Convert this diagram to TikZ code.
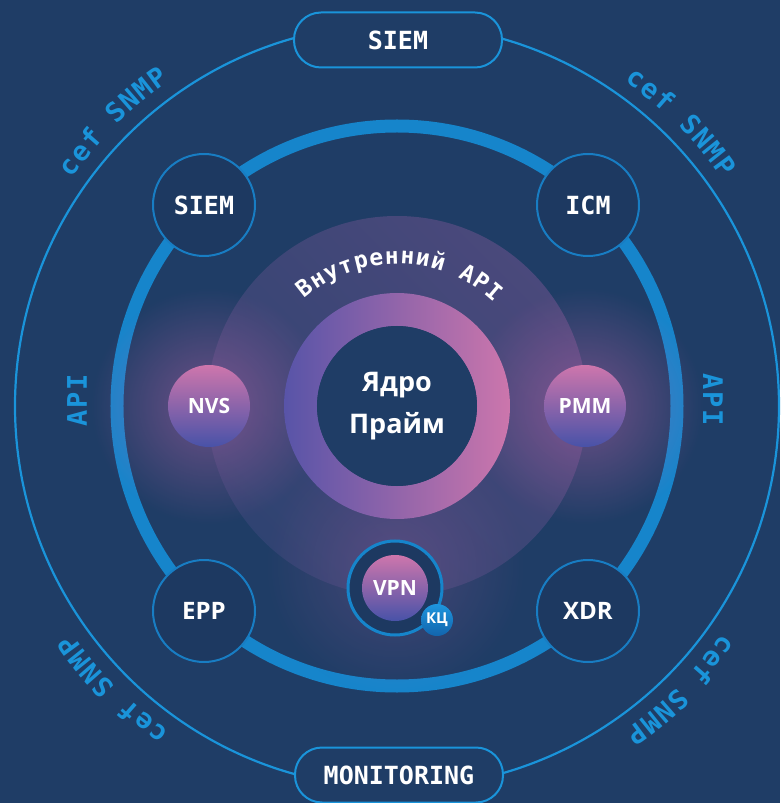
\documentclass[tikz,border=0pt]{standalone}
\usepackage{fontspec}
\setmainfont{Open Sans}
\newfontfamily\monofont{DejaVu Sans Mono}
\newfontfamily\monowide[LetterSpace=6]{DejaVu Sans Mono}
\usetikzlibrary{decorations.text,fadings,shadings}
\definecolor{bgnavy}{RGB}{31,61,102}
\definecolor{lineblue}{RGB}{26,148,218}
\definecolor{ringblue}{RGB}{22,133,203}
\definecolor{satline}{RGB}{24,125,195}
\definecolor{satfill}{RGB}{29,57,97}
\definecolor{discdark}{RGB}{42,66,112}
\definecolor{discmid}{RGB}{60,70,118}
\definecolor{disclight}{RGB}{80,74,126}
\definecolor{coreleft}{RGB}{88,84,168}
\definecolor{coreright}{RGB}{204,118,172}
\definecolor{orbtop}{RGB}{206,118,172}
\definecolor{orbbot}{RGB}{72,82,168}
\definecolor{glowpink}{RGB}{190,100,170}
\definecolor{kctop}{RGB}{30,150,222}
\definecolor{kcbot}{RGB}{18,100,172}
\tikzfading[name=glowfade, inner color=transparent!0, outer color=transparent!100]
\tikzset{
	sat/.style={circle, minimum size=102pt, inner sep=0pt, fill=satfill, draw=satline, line width=2pt, text=white},
	monolbl/.style={font=\monofont\bfseries\fontsize{25}{25}\selectfont},
	sanslbl/.style={font=\bfseries\fontsize{24}{24}\selectfont},
	orb/.style={circle, minimum size=82pt, inner sep=0pt, top color=orbtop, bottom color=orbbot, text=white, font=\bfseries\fontsize{21}{21}\selectfont},
	pill/.style={rectangle, rounded corners=27pt, minimum width=208pt, minimum height=55pt, fill=bgnavy, draw=lineblue, line width=2pt, text=white},
	apilbl/.style={text=lineblue, font=\monowide\bfseries\fontsize{27}{27}\selectfont},
	arclbl/.style={decorate, decoration={text along path, text align=fit to path, text color=lineblue, text={|\monofont\bfseries\fontsize{27}{27}\selectfont|cef SNMP}}}
}
\begin{document}
\begin{tikzpicture}[x=1pt, y=1pt]
	\fill[bgnavy] (-397, -397) rectangle (383, 406);
	\useasboundingbox (-397, -397) rectangle (383, 406);
	\draw[lineblue, line width=2.2pt] (0, 0) circle (382pt);
	\path[arclbl] (145:397) arc[start angle=145, end angle=125, radius=397pt];
	\path[arclbl] (55:397) arc[start angle=55, end angle=35, radius=397pt];
	\path[arclbl] (235:397) arc[start angle=235, end angle=215, radius=397pt];
	\path[arclbl] (325:397) arc[start angle=325, end angle=305, radius=397pt];
	\node[apilbl, rotate=90] at (-320, 6) (apileft) {API};
	\node[apilbl, rotate=-90] at (316, 6) (apiright) {API};
	\draw[ringblue, line width=13pt] (0, 0) circle (280pt);
	\shade[lower left=discdark, upper right=disclight, upper left=discmid, lower right=discmid] (0, 0) circle (190pt);
	\fill[glowpink, path fading=glowfade, fill opacity=0.5] (-188, 0) circle (118pt);
	\fill[glowpink, path fading=glowfade, fill opacity=0.5] (188, 0) circle (118pt);
	\fill[glowpink, path fading=glowfade, fill opacity=0.25] (-2, -160) circle (130pt);
	\path[decorate, decoration={text along path, text align=fit to path, text color=white, text={|\monofont\bfseries\fontsize{23}{23}\selectfont|Внутренний API}}] (131:142) arc[start angle=131, end angle=47, radius=142pt];
	\shade[left color=coreleft, right color=coreright, even odd rule] (0, 0) circle (113pt) (0, 0) circle (80pt);
	\fill[bgnavy] (0, 0) circle (80pt);
	\node[align=center, text=white, font=\bfseries\fontsize{27}{42}\selectfont] at (0, 0) (core) {Ядро\\Прайм};
	\node[orb] at (-188, 0) (nvs) {NVS};
	\node[orb] at (188, 0) (pmm) {PMM};
	\node[circle, minimum size=94pt, inner sep=0pt, fill=satfill, draw=ringblue, line width=3pt] at (-2, -182) (vpnring) {};
	\node[orb, minimum size=66pt] at (-2, -182) (vpn) {VPN};
	\node[circle, minimum size=32pt, inner sep=0pt, top color=kctop, bottom color=kcbot, text=white, font=\bfseries\fontsize{15}{15}\selectfont] at (40, -214) (kc) {КЦ};
	\node[sat, monolbl] at (-193, 201) (siem) {SIEM};
	\node[sat, monolbl] at (191, 201) (icm) {ICM};
	\node[sat, sanslbl] at (-193, -205) (epp) {EPP};
	\node[sat, sanslbl] at (191, -205) (xdr) {XDR};
	\node[pill, monolbl] at (1, 366) (siemtop) {SIEM};
	\node[pill, monolbl] at (2, -369) (monitoring) {MONITORING};
\end{tikzpicture}
\end{document}
